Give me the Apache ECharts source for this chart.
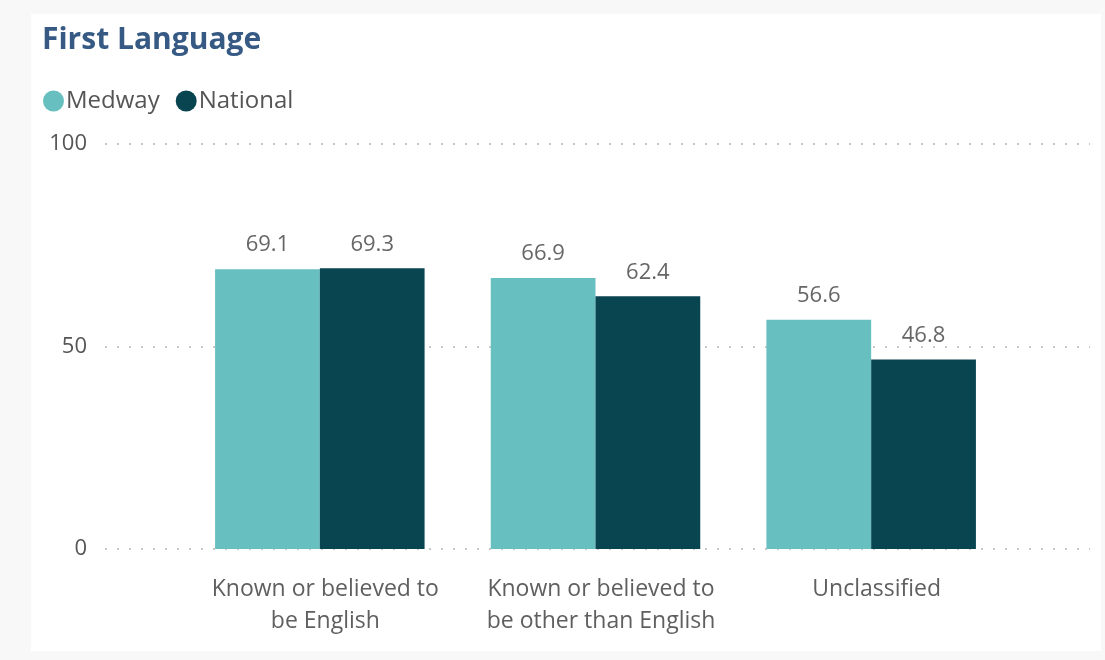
<!DOCTYPE html>
<html>
<head>
<meta charset="utf-8">
<script src="https://cdn.jsdelivr.net/npm/echarts@6/dist/echarts.min.js"></script>
<style>
    html, body { margin: 0; padding: 0; background: #f8f8f8; }
    .card { position: absolute; left: 31px; top: 14px; width: 1070px; height: 637px; background: #ffffff; }
    #chart { position: absolute; left: 0; top: 0; width: 1105px; height: 660px; }
</style>
</head>
<body>
<div class="card"></div>
<div id="chart"></div>
<script>
// data
var categories = ['Known or believed to\nbe English', 'Known or believed to\nbe other than English', 'Unclassified'];
var medway = [69.1, 66.9, 56.6];
var national = [69.3, 62.4, 46.8];
var yTicks = [0, 50, 100];

var font = '"Open Sans", "Noto Sans", sans-serif';
var chart = echarts.init(document.getElementById('chart'));

var labelStyle = {
    show: true,
    position: 'top',
    distance: 13,
    color: '#666666',
    fontSize: 22,
    fontFamily: font,
    formatter: function (p) { return p.value.toFixed(1); }
};

chart.setOption({
    animation: false,
    title: {
        text: 'First Language',
        left: 37,
        top: 20,
        textStyle: { color: '#365a84', fontSize: 30, fontWeight: 'bold', fontFamily: font }
    },
    legend: {
        left: 38,
        top: 84,
        icon: 'circle',
        itemWidth: 21,
        itemHeight: 21,
        itemGap: 16,
        textStyle: { color: '#555555', fontSize: 24, fontFamily: font, padding: [0, 0, 0, -3] },
        data: ['Medway', 'National']
    },
    grid: [
        { left: 105, right: 15, top: 144, bottom: 111 },
        { left: 182, right: 96, top: 144, bottom: 111 }
    ],
    xAxis: [
        { gridIndex: 0, type: 'category', data: categories, show: false },
        {
            gridIndex: 1,
            type: 'category',
            data: categories,
            axisLine: { show: false },
            axisTick: { show: false },
            axisLabel: { color: '#5f5f5f', fontSize: 23, fontFamily: font, margin: 24, lineHeight: 32, interval: 0, padding: [0, 0, 0, 11] }
        }
    ],
    yAxis: [
        {
            gridIndex: 0,
            type: 'value',
            min: yTicks[0],
            max: yTicks[yTicks.length - 1],
            interval: yTicks[1] - yTicks[0],
            axisLine: { show: false },
            axisTick: { show: false },
            axisLabel: { color: '#555555', fontSize: 22, fontFamily: font, margin: 18 },
            splitLine: { lineStyle: { color: '#c8c8c8', width: 2, type: [2, 10] } }
        },
        {
            gridIndex: 1,
            type: 'value',
            min: yTicks[0],
            max: yTicks[yTicks.length - 1],
            show: false
        }
    ],
    color: ['#67bfbf', '#094551'],
    series: [
        {
            name: 'Medway',
            type: 'bar',
            xAxisIndex: 1,
            yAxisIndex: 1,
            data: medway,
            barGap: '0%',
            barCategoryGap: '24%',
            label: labelStyle
        },
        {
            name: 'National',
            type: 'bar',
            xAxisIndex: 1,
            yAxisIndex: 1,
            data: national,
            barGap: '0%',
            barCategoryGap: '24%',
            label: labelStyle
        }
    ]
});
</script>
</body>
</html>
